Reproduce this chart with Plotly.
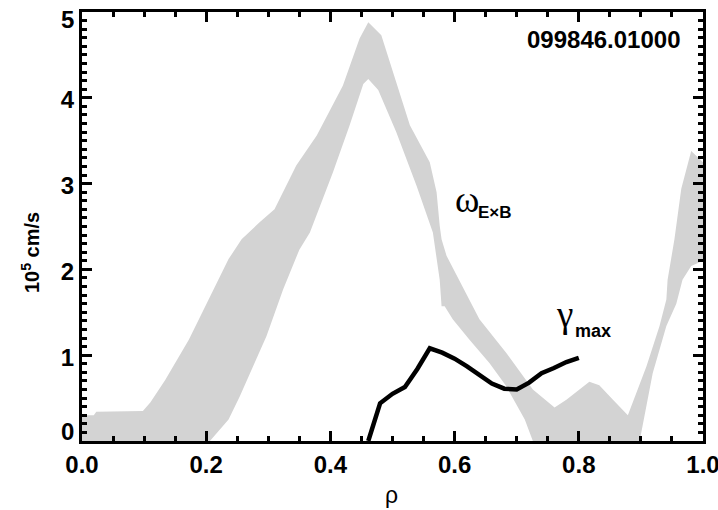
import plotly.graph_objects as go

# omega_ExB band: upper and lower edges (10^5 cm/s) vs rho
upper_rho = [0.0, 0.019, 0.023, 0.098, 0.11, 0.134, 0.172, 0.204, 0.236, 0.257, 0.286, 0.31, 0.345,
             0.378, 0.42, 0.447, 0.461, 0.482, 0.528, 0.56, 0.571, 0.576, 0.579, 0.587, 0.64,
             0.683, 0.726, 0.761, 0.78, 0.817, 0.833, 0.855, 0.879, 0.909, 0.93, 0.941, 0.943,
             0.954, 0.965, 0.981, 1.0]
upper_val = [0.30, 0.30, 0.34, 0.35, 0.45, 0.71, 1.18, 1.65, 2.12, 2.35, 2.55, 2.70, 3.21,
             3.56, 4.14, 4.69, 4.88, 4.73, 3.68, 3.25, 2.90, 2.51, 2.35, 2.16, 1.42,
             1.03, 0.60, 0.39, 0.48, 0.69, 0.65, 0.48, 0.30, 0.87, 1.34, 1.65, 1.88,
             2.35, 2.94, 3.38, 3.25]

lower_rho = [0.0, 0.17, 0.206, 0.236, 0.254, 0.297, 0.324, 0.35, 0.367, 0.404, 0.431, 0.453,
             0.461, 0.477, 0.506, 0.539, 0.565, 0.568, 0.576, 0.579, 0.584, 0.597, 0.624,
             0.656, 0.683, 0.713, 0.726, 0.74, 0.80, 0.89, 0.898, 0.919, 0.941, 0.957,
             0.967, 0.981, 1.0]
lower_val = [-0.5, -0.3, 0.0, 0.25, 0.52, 1.22, 1.77, 2.23, 2.43, 3.13, 3.68, 4.16,
             4.22, 4.09, 3.60, 2.97, 2.43, 2.27, 1.88, 1.57, 1.57, 1.42, 1.18,
             0.91, 0.64, 0.25, 0.0, -0.27, -0.5, -0.3, 0.0, 0.79, 1.34, 1.60,
             1.88, 2.04, 2.10]

# gamma_max growth rate
gamma_rho = [0.461, 0.48, 0.50, 0.52, 0.54, 0.56, 0.58, 0.60, 0.62, 0.64, 0.66, 0.68,
             0.70, 0.72, 0.74, 0.76, 0.78, 0.80]
gamma_val = [0.0, 0.44, 0.55, 0.63, 0.84, 1.08, 1.03, 0.96, 0.87, 0.77, 0.67, 0.61,
             0.60, 0.68, 0.79, 0.85, 0.92, 0.97]

x_ticks = [0.0, 0.2, 0.4, 0.6, 0.8, 1.0]
x_ticklabels = ["0.0", "0.2", "0.4", "0.6", "0.8", "1.0"]
y_ticks = [0, 1, 2, 3, 4, 5]
y_ticklabels = ["0", "1", "2", "3", "4", "5"]

GRAY = "rgb(211,211,211)"
FONT = "Liberation Sans, Arial, sans-serif"
SERIF = "Liberation Serif, Times New Roman, serif"

fig = go.Figure()
fig.add_trace(go.Scatter(
    x=upper_rho + lower_rho[::-1],
    y=upper_val + lower_val[::-1],
    mode="lines", fill="toself", fillcolor=GRAY,
    line=dict(width=0, color=GRAY), hoverinfo="skip", showlegend=False))
fig.add_trace(go.Scatter(
    x=gamma_rho, y=gamma_val, mode="lines",
    line=dict(color="black", width=4.5), showlegend=False))

axis_common = dict(
    showgrid=False, zeroline=False, showline=True, linecolor="black", linewidth=3,
    mirror="allticks", ticks="inside", tickcolor="black", tickwidth=2.5, ticklen=10,
    tickfont=dict(family=FONT, size=24, color="black", weight="bold"),
    automargin=False, ticklabeloverflow="allow",
)
fig.update_xaxes(range=[0, 1], tickvals=x_ticks, ticktext=x_ticklabels,
                 minor=dict(ticks="inside", dtick=0.05, ticklen=5, tickwidth=2.5,
                            tickcolor="black"),
                 **axis_common)
# end labels (0 and 5) are nudged inward as in the original, drawn as annotations below
inner_y_text = [""] + y_ticklabels[1:-1] + [""]
fig.update_yaxes(range=[0, 5], tickvals=y_ticks, ticktext=inner_y_text,
                 ticklabelshift=2,
                 minor=dict(ticks="inside", dtick=0.1, ticklen=5, tickwidth=2.5,
                            tickcolor="black"),
                 **axis_common)

end_label_font = dict(family=FONT, size=24, color="black")
fig.update_layout(
    width=718, height=510,
    margin=dict(l=82, r=15, t=12, b=69, autoexpand=False),
    paper_bgcolor="white", plot_bgcolor="white",
    annotations=[
        dict(text="<b>" + y_ticklabels[0] + "</b>", xref="paper", yref="y", x=-0.0113,
             y=y_ticks[0] + 0.105, xanchor="right", yanchor="middle", showarrow=False,
             borderpad=0, font=end_label_font),
        dict(text="<b>" + y_ticklabels[-1] + "</b>", xref="paper", yref="y", x=-0.0113,
             y=y_ticks[-1] - 0.09, xanchor="right", yanchor="middle", showarrow=False,
             borderpad=0, font=end_label_font),
        dict(text="<b>099846.01000</b>", xref="paper", yref="paper", x=0.968, y=0.935,
             xanchor="right", yanchor="middle", showarrow=False,
             font=dict(family=FONT, size=24, color="black")),
        dict(text="ω", xref="x", yref="y", x=0.598, y=2.81, xanchor="left",
             yanchor="middle", showarrow=False,
             font=dict(family=SERIF, size=37, color="black")),
        dict(text="<b>E×B</b>", xref="x", yref="y", x=0.634, y=2.66, xanchor="left",
             yanchor="middle", showarrow=False,
             font=dict(family=FONT, size=17, color="black")),
        dict(text="γ", xref="x", yref="y", x=0.792, y=1.47, xanchor="right",
             yanchor="middle", showarrow=False, borderpad=0,
             font=dict(family=SERIF, size=37, color="black")),
        dict(text="<b>max</b>", xref="x", yref="y", x=0.792, y=1.28, xanchor="left",
             yanchor="middle", showarrow=False, borderpad=0,
             font=dict(family=FONT, size=18, color="black")),
        dict(text="<b>10<sup>5</sup> cm/s</b>", xref="paper", yref="paper", x=-0.084,
             y=0.44, xanchor="center", yanchor="middle", textangle=-90, showarrow=False,
             font=dict(family=FONT, size=20, color="black")),
        dict(text="ρ", xref="paper", yref="paper", x=0.499, y=-0.126,
             xanchor="center", yanchor="middle", showarrow=False,
             font=dict(family=FONT, size=23, color="black")),
    ],
)

fig.write_html("out.html", config={"displayModeBar": False},
               post_script="document.body.style.margin='0';")
